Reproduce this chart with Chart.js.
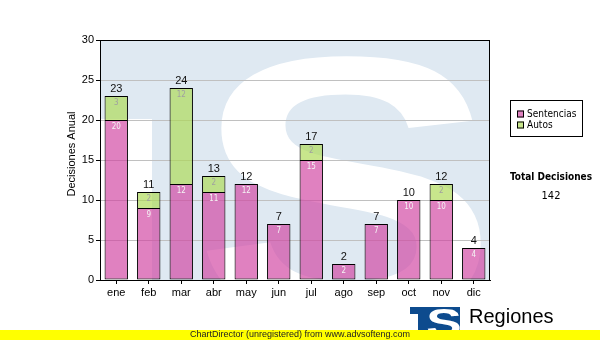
<!DOCTYPE html>
<html>
<head>
<meta charset="utf-8">
<script src="https://cdn.jsdelivr.net/npm/chart.js@4"></script>
<style>
  html, body { margin: 0; padding: 0; background: #fff; }
  #wrap { width: 600px; height: 340px; position: relative; }
</style>
</head>
<body>
<div id="wrap"><canvas id="decisionesChart" width="600" height="340"></canvas></div>
<script>
const meses = ['ene', 'feb', 'mar', 'abr', 'may', 'jun', 'jul', 'ago', 'sep', 'oct', 'nov', 'dic'];
const sentencias = [20, 9, 12, 11, 12, 7, 15, 2, 7, 10, 10, 4];
const autos = [3, 2, 12, 2, 0, 0, 2, 0, 0, 0, 2, 0];
const yTicks = [0, 5, 10, 15, 20, 25, 30];

const totales = meses.map((m, i) => sentencias[i] + autos[i]);
const totalDecisiones = totales.reduce((a, b) => a + b, 0);

const SANS = '"Liberation Sans", Arial, sans-serif';
const VERD = '"DejaVu Sans Condensed", "DejaVu Sans", sans-serif';

// fondo del area de trazado con la marca de agua del logo
const watermark = {
    id: 'watermark',
    beforeDraw(chart) {
        const { ctx, chartArea: a } = chart;
        ctx.save();
        ctx.beginPath();
        ctx.rect(a.left, a.top, a.right - a.left, a.bottom - a.top);
        ctx.clip();
        ctx.fillStyle = '#dfe9f2';
        ctx.fillRect(a.left, a.top, a.right - a.left, a.bottom - a.top);
        ctx.fillStyle = '#ffffff';
        ctx.fillRect(a.left, a.top + 79, 52, a.bottom - a.top);
        ctx.translate(346, 318);
        ctx.scale(1.22, 1);
        ctx.font = 'bold 375px ' + SANS;
        ctx.textAlign = 'center';
        ctx.textBaseline = 'alphabetic';
        ctx.fillText('S', 0, 0);
        ctx.restore();
    }
};

// valores dentro de cada tramo y total encima de cada barra
const barLabels = {
    id: 'barLabels',
    afterDatasetsDraw(chart) {
        const { ctx } = chart;
        ctx.save();
        ctx.textAlign = 'center';
        ctx.textBaseline = 'middle';
        ctx.font = '8px ' + VERD;
        const tops = [];
        chart.data.datasets.forEach((ds, di) => {
            const meta = chart.getDatasetMeta(di);
            meta.data.forEach((bar, i) => {
                const v = ds.data[i];
                if (!v) return;
                ctx.fillStyle = di === 0 ? '#f4f4f4' : '#a0a0a0';
                ctx.fillText(String(v), bar.x, bar.y + 7);
                if (tops[i] === undefined || bar.y < tops[i].y) tops[i] = { x: bar.x, y: bar.y };
            });
        });
        ctx.font = '11px ' + SANS;
        ctx.fillStyle = '#111';
        tops.forEach((t, i) => {
            if (t) ctx.fillText(String(totales[i]), t.x, t.y - 7);
        });
        ctx.restore();
    },
    afterDraw(chart) {
        const { ctx, chartArea: a } = chart;
        ctx.save();
        // marco completo del area
        ctx.strokeStyle = '#000';
        ctx.lineWidth = 1;
        ctx.strokeRect(a.left + 0.5, a.top + 0.5, a.right - a.left - 1, a.bottom - a.top);

        // titulo del eje y
        ctx.save();
        ctx.translate(72, 154);
        ctx.rotate(-Math.PI / 2);
        ctx.font = '11px ' + SANS;
        ctx.fillStyle = '#000';
        ctx.textAlign = 'center';
        ctx.textBaseline = 'middle';
        ctx.fillText('Decisiones Anual', 0, 0);
        ctx.restore();

        // leyenda
        ctx.strokeRect(510.5, 100.5, 72, 36);
        const items = [['Sentencias', chart.data.datasets[0].backgroundColor, 114], ['Autos', chart.data.datasets[1].backgroundColor, 125]];
        ctx.font = '10px ' + VERD;
        ctx.textAlign = 'left';
        ctx.textBaseline = 'middle';
        items.forEach(([txt, col, y]) => {
            ctx.fillStyle = '#fff';
            ctx.fillRect(517, y - 3.5, 7, 7);
            ctx.fillStyle = col;
            ctx.fillRect(517, y - 3.5, 7, 7);
            ctx.strokeRect(517.5, y - 3.5 + 0.5, 6, 6);
            ctx.fillStyle = '#000';
            ctx.fillText(txt, 527, y);
        });

        // total
        ctx.textAlign = 'center';
        ctx.font = 'bold 10px ' + VERD;
        ctx.fillText('Total Decisiones', 551, 177);
        ctx.font = '11px ' + VERD;
        ctx.fillText(String(totalDecisiones), 551, 196);

        // logo inferior
        ctx.fillStyle = '#0d4b8e';
        ctx.fillRect(410, 307, 22, 7);
        ctx.fillRect(418, 307, 12, 26);
        ctx.fillRect(426, 307, 34, 26);
        ctx.fillStyle = '#fff';
        ctx.save();
        ctx.translate(444, 336);
        ctx.scale(1.4, 1);
        ctx.font = 'bold 38px ' + SANS;
        ctx.textAlign = 'center';
        ctx.textBaseline = 'alphabetic';
        ctx.fillText('S', 0, 0);
        ctx.restore();
        ctx.fillStyle = '#000';
        ctx.textAlign = 'left';
        ctx.textBaseline = 'alphabetic';
        ctx.font = '20px ' + SANS;
        ctx.fillText('Regiones', 469, 323);
        ctx.font = '8px ' + SANS;
        ctx.fillText('Tribunal Supremo de Justicia', 468, 336);

        // franja amarilla
        ctx.fillStyle = '#ffff00';
        ctx.fillRect(0, 330, 600, 10);
        ctx.fillStyle = '#222';
        ctx.textAlign = 'center';
        ctx.textBaseline = 'middle';
        ctx.font = '9px ' + SANS;
        ctx.fillText('ChartDirector (unregistered) from www.advsofteng.com', 300, 335);
        ctx.restore();
    }
};

new Chart(document.getElementById('decisionesChart'), {
    type: 'bar',
    data: {
        labels: meses,
        datasets: [
            {
                label: 'Sentencias',
                data: sentencias.map(v => v || null),
                backgroundColor: 'rgba(208, 63, 160, 0.66)',
                borderColor: '#000',
                borderWidth: 1,
                borderSkipped: false
            },
            {
                label: 'Autos',
                data: autos.map(v => v || null),
                backgroundColor: 'rgba(172, 217, 81, 0.66)',
                borderColor: '#000',
                borderWidth: { top: 1, left: 1, right: 1, bottom: 0 },
                borderSkipped: false
            }
        ]
    },
    options: {
        responsive: false,
        animation: false,
        devicePixelRatio: 1,
        layout: { padding: { top: 40, right: 110, left: 0, bottom: 0 } },
        datasets: { bar: { categoryPercentage: 1, barPercentage: 0.72 } },
        plugins: {
            legend: { display: false },
            tooltip: { enabled: false }
        },
        scales: {
            x: {
                stacked: true,
                afterFit(scale) { scale.height = 60; },
                grid: { display: true, drawOnChartArea: false, offset: false, tickLength: 4, tickColor: '#000' },
                border: { display: true, color: '#000' },
                ticks: { color: '#000', font: { family: SANS, size: 11 }, padding: 2, maxRotation: 0 }
            },
            y: {
                stacked: true,
                min: 0,
                max: 30,
                afterFit(scale) { scale.width = 100; },
                afterBuildTicks(scale) { scale.ticks = yTicks.map(v => ({ value: v })); },
                grid: { color: '#c0c0c0', tickLength: 4, tickColor: '#000' },
                border: { display: true, color: '#000' },
                ticks: { color: '#000', font: { family: SANS, size: 11 }, padding: 2 }
            }
        }
    },
    plugins: [watermark, barLabels]
});
</script>
</body>
</html>
